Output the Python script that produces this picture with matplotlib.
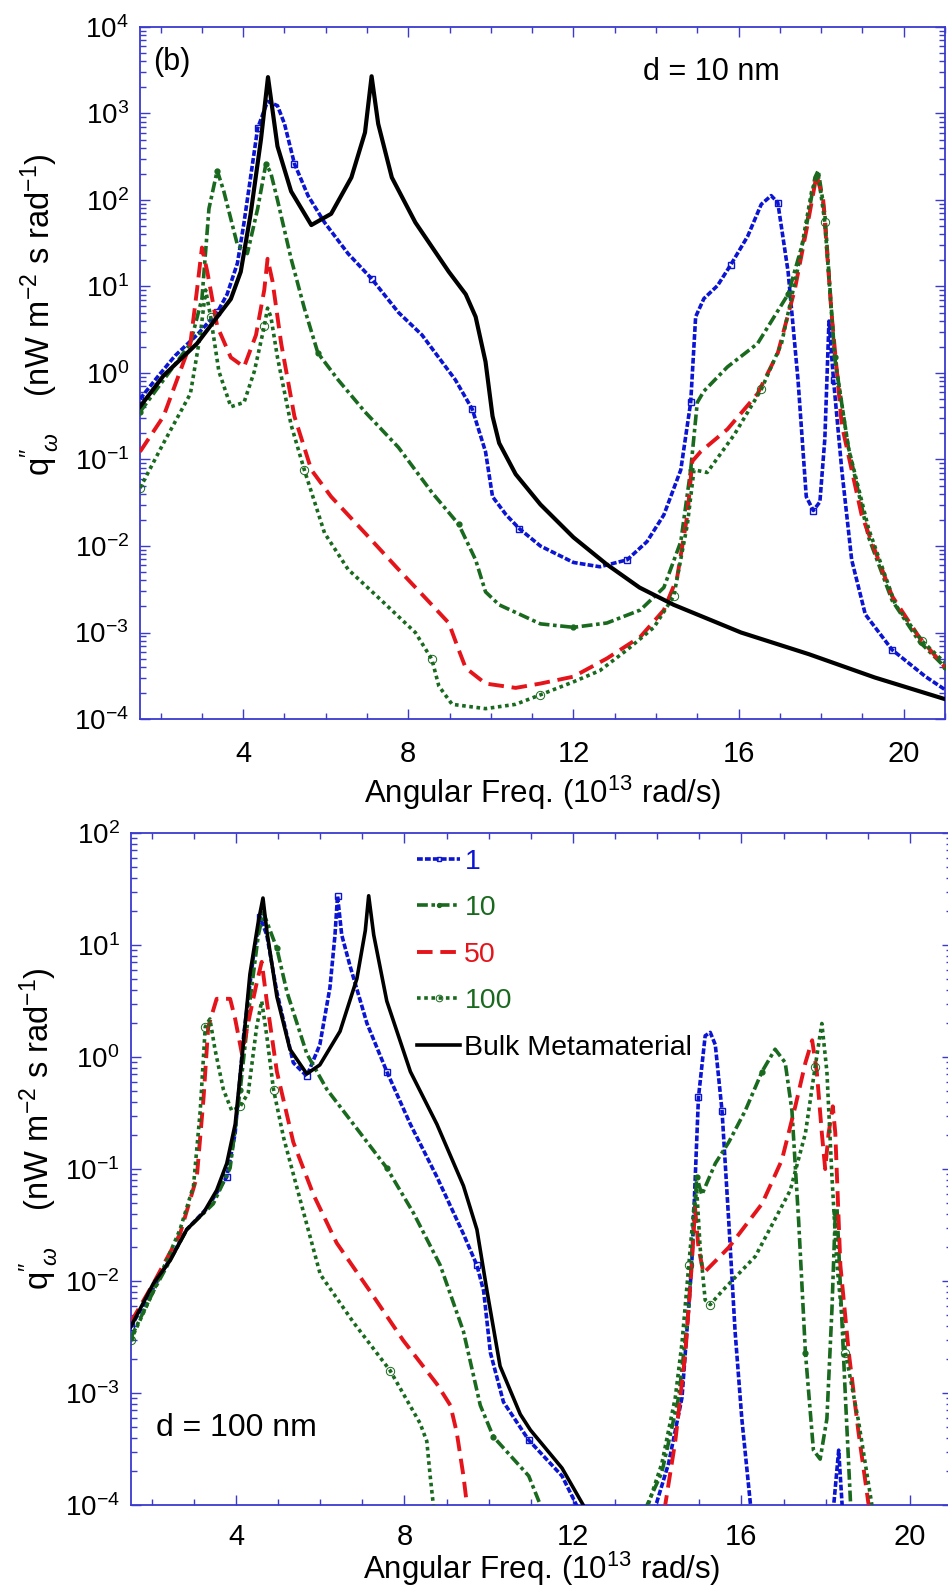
import numpy as np
import matplotlib
matplotlib.use('Agg')
import matplotlib.pyplot as plt
from matplotlib.ticker import LogLocator, MultipleLocator, NullFormatter

plt.rcParams['font.family'] = ['Liberation Sans', 'DejaVu Sans']
plt.rcParams['mathtext.fontset'] = 'custom'
plt.rcParams['mathtext.rm'] = 'Liberation Sans'
plt.rcParams['mathtext.it'] = 'Liberation Sans:italic'
plt.rcParams['mathtext.bf'] = 'Liberation Sans:bold'

BLUE = '#0a14d2'
GREEN = '#19691e'
RED = '#e4141a'
SPINE = '#3a3acf'
NA = np.nan  # gap where a curve drops below the axis

# ---------- top panel, d = 10 nm (x in 1e13 rad/s, y as log10 of q) ----------
t_bulk_x = [1.5, 2.07, 2.88, 3.7, 3.94, 4.18, 4.43, 4.6, 4.83, 5.16, 5.65, 6.13, 6.62, 6.95, 7.11,
            7.27, 7.6, 8.17, 8.98, 9.39, 9.63, 9.87, 10.04, 10.2, 10.6, 11.2, 12.0, 12.8, 13.6,
            14.43, 16.06, 17.7, 19.3, 21.0]
t_bulk_y = [-0.39, -0.03, 0.34, 0.855, 1.17, 1.84, 2.70, 3.42, 2.62, 2.10, 1.71, 1.84, 2.26, 2.78, 3.43,
            2.88, 2.26, 1.74, 1.17, 0.91, 0.65, 0.13, -0.50, -0.81, -1.17, -1.52, -1.90, -2.21, -2.48,
            -2.68, -3.0, -3.25, -3.52, -3.77]

t_blue_x = [1.5, 1.95, 2.35, 2.88, 3.37, 3.61, 3.86, 4.02, 4.35, 4.59, 4.83, 5.0, 5.24, 5.57, 5.97,
            6.54, 7.11, 7.76, 8.33, 9.14, 9.55, 9.87, 10.04, 10.37, 10.69, 11.2, 12.0, 12.64, 13.3,
            13.78, 14.19, 14.6, 14.84, 14.96, 15.16, 15.49, 15.81, 16.22, 16.55, 16.79, 16.95, 17.2,
            17.44, 17.64, 17.81, 17.97, 18.09, 18.19, 18.3, 18.5, 18.74, 19.07, 19.72, 20.53, 21.0]
t_blue_y = [-0.3, -0.03, 0.2, 0.44, 0.70, 0.91, 1.27, 1.74, 2.83, 3.14, 3.09, 2.88, 2.42, 2.05, 1.74,
            1.38, 1.09, 0.70, 0.44, -0.08, -0.42, -0.91, -1.43, -1.64, -1.80, -2.0, -2.19, -2.24, -2.16,
            -1.95, -1.64, -1.12, -0.34, 0.65, 0.86, 1.01, 1.25, 1.58, 1.95, 2.05, 1.97, 1.17,
            -0.08, -1.43, -1.59, -1.49, -0.76, 0.60, -0.08, -1.12, -2.16, -2.79, -3.20, -3.51, -3.66]

t_g10_x = [1.5, 2.07, 2.72, 3.0, 3.17, 3.37, 3.53, 3.86, 4.1, 4.35, 4.55, 4.67, 4.83, 5.16, 5.48,
           5.81, 6.3, 6.95, 7.76, 8.57, 9.22, 9.63, 9.87, 10.2, 11.2, 12.0, 12.81, 13.62, 14.19,
           14.6, 14.84, 15.0, 15.16, 15.73, 16.46, 17.2, 17.6, 17.85, 17.93, 18.09, 18.33, 18.66,
           19.15, 19.72, 20.37, 21.0]
t_g10_y = [-0.45, -0.08, 0.34, 0.86, 1.90, 2.34, 2.10, 1.48, 1.38, 1.90, 2.42, 2.31, 2.0, 1.32, 0.75,
           0.23, -0.08, -0.45, -0.86, -1.38, -1.75, -2.16, -2.53, -2.68, -2.90, -2.94, -2.89, -2.74, -2.48,
           -1.95, -1.12, -0.34, -0.21, 0.07, 0.34, 0.91, 1.58, 2.26, 2.34, 1.84, 0.18, -0.86,
           -1.90, -2.63, -3.10, -3.40]

t_r50_x = [1.5, 2.07, 2.72, 2.88, 3.0, 3.13, 3.37, 3.7, 4.02, 4.31, 4.51, 4.59, 4.71, 4.92, 5.24,
           5.65, 6.13, 6.95, 7.76, 8.57, 8.98, 9.22, 9.39, 9.87, 10.6, 11.2, 12.0, 12.81, 13.62,
           14.19, 14.51, 14.76, 14.88, 15.08, 15.73, 16.46, 16.95, 17.36, 17.68, 17.89, 18.05,
           18.25, 18.5, 18.98, 19.72, 20.37, 21.0]
t_r50_y = [-0.91, -0.50, 0.34, 0.96, 1.45, 1.17, 0.54, 0.18, 0.07, 0.44, 0.96, 1.32, 1.06, 0.34, -0.50,
           -1.12, -1.43, -1.85, -2.27, -2.68, -2.89, -3.20, -3.41, -3.59, -3.64, -3.59, -3.51, -3.30, -3.05,
           -2.74, -2.37, -1.64, -1.02, -0.91, -0.65, -0.24, 0.23, 0.96, 1.74, 2.29, 2.0,
           0.70, -0.60, -1.64, -2.58, -3.05, -3.40]

t_g100_x = [1.5, 2.07, 2.72, 2.96, 3.09, 3.21, 3.41, 3.7, 4.02, 4.27, 4.51, 4.59, 4.67, 4.83, 5.16,
            5.48, 5.97, 6.54, 7.35, 8.17, 8.57, 8.74, 9.06, 9.87, 10.6, 11.2, 12.0, 12.64, 13.3,
            13.95, 14.43, 14.76, 14.92, 15.24, 15.9, 16.55, 17.04, 17.44, 17.77, 17.93, 18.09,
            18.33, 18.66, 19.15, 19.8, 20.45, 21.0]
t_g100_y = [-1.33, -0.81, -0.24, 0.44, 0.96, 0.65, 0.02, -0.39, -0.34, 0.02, 0.54, 0.75, 0.65, 0.18, -0.60,
            -1.12, -1.85, -2.27, -2.63, -3.0, -3.31, -3.62, -3.83, -3.88, -3.83, -3.72, -3.57, -3.44, -3.2,
            -2.94, -2.58, -1.75, -1.12, -1.15, -0.71, -0.19, 0.34, 1.22, 2.1, 2.29, 1.74,
            0.18, -0.86, -1.80, -2.68, -3.10, -3.35]

# ---------- bottom panel, d = 100 nm ----------
b_bulk_x = [1.5, 2.04, 2.43, 2.83, 3.23, 3.54, 3.78, 3.98, 4.14, 4.33, 4.53, 4.64, 4.73, 4.97, 5.28,
            5.68, 5.99, 6.47, 6.87, 7.07, 7.15, 7.27, 7.58, 8.14, 8.77, 9.4, 9.72, 9.96, 10.27,
            10.75, 10.99, 11.74, 12.32]
b_bulk_y = [-2.41, -2.02, -1.82, -1.54, -1.39, -1.19, -0.95, -0.60, -0.01, 0.74, 1.21, 1.42, 1.13, 0.54, 0.07,
            -0.15, -0.07, 0.23, 0.70, 1.13, 1.44, 1.09, 0.50, -0.13, -0.60, -1.15, -1.54, -2.09, -2.76,
            -3.19, -3.33, -3.67, -4.05]

b_blue_x = [1.5, 2.04, 2.83, 3.31, 3.78, 3.98, 4.18, 4.41, 4.57, 4.73, 4.97, 5.36, 5.68, 5.99, 6.23,
            6.35, 6.41, 6.51, 6.71, 7.11, 7.58, 8.14, 8.77, 9.4, 9.72, 9.88, 10.04, 10.35, 10.95,
            11.74, 12.15, NA, 13.93, 14.27, 14.59, 14.82, 14.98, 15.14, 15.26, 15.38, 15.54, 15.7,
            15.85, 16.01, 16.23, NA, 18.18, 18.31, 18.4]
b_blue_y = [-2.41, -2.06, -1.54, -1.35, -1.07, -0.68, 0.19, 0.89, 1.25, 1.09, 0.58, -0.05, -0.17, 0.11, 0.62,
            1.09, 1.44, 1.09, 0.81, 0.30, -0.13, -0.60, -1.07, -1.58, -1.86, -2.09, -2.64, -3.08, -3.42,
            -3.74, -4.05, NA, -4.05, -3.63, -3.04, -1.86, -0.36, 0.19, 0.22, 0.11, -0.48, -1.47,
            -2.45, -3.23, -4.05, NA, -4.05, -3.51, -4.05]

b_g10_x = [1.5, 2.04, 2.83, 3.46, 3.86, 4.1, 4.33, 4.53, 4.65, 4.77, 4.97, 5.21, 5.68, 6.16, 6.79,
           7.58, 8.21, 8.85, 9.4, 9.8, 10.11, 10.59, 10.95, 11.28, NA, 13.7, 14.11, 14.51, 14.75, 14.87,
           14.94, 15.06, 15.38, 15.7, 16.09, 16.49, 16.8, 17.04, 17.2, 17.36, 17.52, 17.71, 17.87,
           18.03, 18.15, 18.23, 18.27, 18.35, 18.47, 18.6]
b_g10_y = [-2.51, -2.09, -1.54, -1.31, -0.99, -0.29, 0.50, 1.09, 1.29, 1.17, 0.97, 0.58, 0.03, -0.29, -0.60,
           -0.99, -1.39, -1.86, -2.45, -3.11, -3.39, -3.59, -3.74, -4.05, NA, -4.05, -3.71, -3.04, -2.25, -1.47,
           -1.07, -1.23, -0.95, -0.76, -0.48, -0.13, 0.07, -0.05, -0.48, -1.47, -2.64, -3.51, -3.59,
           -3.23, -2.25, -1.39, -1.35, -2.05, -3.04, -4.05]

b_r50_x = [1.5, 2.04, 2.67, 3.07, 3.23, 3.34, 3.54, 3.86, 3.98, 4.14, 4.33, 4.49, 4.61, 4.73, 4.97,
           5.36, 5.84, 6.39, 7.18, 7.97, 8.77, 9.09, 9.24, 9.4, 9.5, NA, 14.17, 14.43, 14.67, 14.82,
           14.9, 14.98, 15.1, 15.7, 16.49, 16.96, 17.28, 17.52, 17.68, 17.79, 17.91, 17.99, 18.07,
           18.17, 18.23, 18.35, 18.55, 18.78, 19.04]
b_r50_y = [-2.37, -2.02, -1.58, -1.07, -0.36, 0.27, 0.52, 0.52, 0.34, 0.03, 0.38, 0.66, 0.85, 0.50, -0.13,
           -0.76, -1.23, -1.66, -2.09, -2.53, -2.92, -3.11, -3.35, -3.74, -4.05, NA, -4.05, -3.43, -2.64, -1.86,
           -1.35, -1.70, -1.93, -1.70, -1.31, -0.92, -0.44, -0.05, 0.15, -0.13, -0.68, -1.0, -0.68,
           -0.44, -0.68, -1.86, -2.64, -3.35, -4.05]

b_g100_x = [1.5, 2.04, 2.67, 2.99, 3.15, 3.27, 3.38, 3.5, 3.7, 3.9, 4.1, 4.29, 4.49, 4.61, 4.73,
            4.89, 5.13, 5.52, 6.0, 6.79, 7.66, 8.37, 8.53, 8.61, 8.7, NA, 13.74, 14.11, 14.43, 14.59,
            14.75, 14.87, 14.94, 15.02, 15.14, 15.26, 15.54, 16.33, 17.16, 17.52, 17.75, 17.91,
            18.03, 18.15, 18.27, 18.47, 18.78, 19.12]
b_g100_y = [-2.53, -2.09, -1.54, -1.15, -0.48, 0.27, 0.34, 0.07, -0.29, -0.48, -0.44, -0.32, 0.27, 0.50, 0.19,
            -0.29, -0.72, -1.27, -1.94, -2.37, -2.80, -3.27, -3.43, -3.74, -4.05, NA, -4.05, -3.63, -3.04, -2.55,
            -1.86, -1.35, -1.19, -1.70, -2.17, -2.21, -2.09, -1.78, -1.19, -0.68, -0.09, 0.30,
            -0.13, -1.07, -1.86, -2.64, -3.25, -4.05]

x_ticks = [4, 8, 12, 16, 20]
x_label = 'Angular Freq. (10$^{13}$ rad/s)'
y_label = 'q$^{\\prime\\prime}_{\\ \\omega}$    (nW m$^{-2}$ s rad$^{-1}$)'


def draw_series(ax, x, logy, **kw):
    ax.plot(x, np.power(10.0, logy), **kw)


def style_axes(ax, ymin, ymax, xpad, xlabelpad):
    ax.set_yscale('log')
    ax.set_xlim(1.5, 21)
    ax.set_ylim(ymin, ymax)
    ax.set_xticks(x_ticks)
    ax.xaxis.set_minor_locator(MultipleLocator(1))
    ax.yaxis.set_major_locator(LogLocator(base=10, numticks=20))
    ax.yaxis.set_minor_locator(LogLocator(base=10, subs=np.arange(2, 10), numticks=20))
    ax.yaxis.set_minor_formatter(NullFormatter())
    for s in ax.spines.values():
        s.set_color(SPINE)
        s.set_linewidth(1.3)
    ax.tick_params(which='both', direction='in', top=True, right=True, color=SPINE,
                   labelcolor='black', width=1.0)
    ax.tick_params(axis='x', labelsize=21, pad=xpad)
    ax.tick_params(axis='y', labelsize=20, pad=8)
    ax.tick_params(which='major', length=7)
    ax.tick_params(which='minor', length=4)
    ax.set_xlabel(x_label, fontsize=22.5, labelpad=xlabelpad)
    ax.set_ylabel(y_label, fontsize=23.5)


def draw_panel(ax, bulk, blue, g10, r50, g100, bulk_lw):
    draw_series(ax, blue[0], blue[1], color=BLUE, lw=2.6, ls=(0, (1.6, 0.6)),
                marker='s', ms=4, mfc='none', mec=BLUE, markevery=4, label='1', zorder=3)
    draw_series(ax, g10[0], g10[1], color=GREEN, lw=2.6, ls=(0, (3.0, 1.0, 1.0, 1.0)),
                marker='o', ms=3.5, mfc=GREEN, mec=GREEN, markevery=5, label='10', zorder=3)
    draw_series(ax, r50[0], r50[1], color=RED, lw=2.8, ls=(0, (4.0, 2.0)),
                label='50', zorder=3)
    draw_series(ax, g100[0], g100[1], color=GREEN, lw=2.6, ls=(0, (1.0, 1.0)),
                marker='o', ms=6, mfc='none', mec=GREEN, mew=0.7, markevery=5, label='100', zorder=3)
    draw_series(ax, bulk[0], bulk[1], color='black', lw=bulk_lw, ls='-',
                label='Bulk Metamaterial', zorder=4)


fig = plt.figure(figsize=(9.48, 15.95), dpi=100)

ax1 = fig.add_axes([0.1477, 0.5492, 0.8491, 0.4339])
draw_panel(ax1, (t_bulk_x, t_bulk_y), (t_blue_x, t_blue_y), (t_g10_x, t_g10_y),
           (t_r50_x, t_r50_y), (t_g100_x, t_g100_y), 3.0)
style_axes(ax1, 1e-4, 1e4, 15, 4)
ax1.yaxis.set_label_coords(-0.097, 0.585)
ax1.text(0.016, 0.95, '(b)', transform=ax1.transAxes, fontsize=22, va='center', ha='left')
ax1.text(0.71, 0.935, 'd = 10 nm', transform=ax1.transAxes, fontsize=22, va='center', ha='center')

ax2 = fig.add_axes([0.1379, 0.0564, 0.8663, 0.4213])
draw_panel(ax2, (b_bulk_x, b_bulk_y), (b_blue_x, b_blue_y), (b_g10_x, b_g10_y),
           (b_r50_x, b_r50_y), (b_g100_x, b_g100_y), 2.6)
style_axes(ax2, 1e-4, 1e2, 13, -1)
ax2.yaxis.set_label_coords(-0.085, 0.56)
ax2.text(0.031, 0.115, 'd = 100 nm', transform=ax2.transAxes, fontsize=23, va='center', ha='left')
leg = ax2.legend(loc='upper left', bbox_to_anchor=(0.33, 1.0), frameon=False, fontsize=20.5,
                 handlelength=1.5, handletextpad=0.15, labelspacing=0.72, borderaxespad=0.15,
                 labelcolor='linecolor', markerscale=0.8)
for t in leg.get_texts():
    if t.get_text() == 'Bulk Metamaterial':
        t.set_color('black')

fig.savefig('out.png', dpi=100)
